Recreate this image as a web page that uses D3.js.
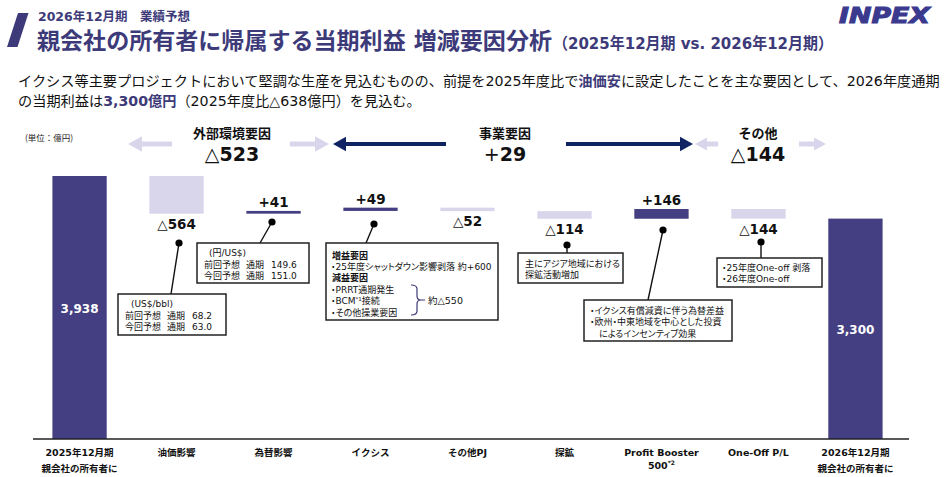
<!DOCTYPE html>
<html><head><meta charset="utf-8">
<script src="https://cdn.jsdelivr.net/npm/d3@7"></script>
<style>
html,body{margin:0;padding:0;background:#fff;}
svg{display:block;}
text{font-family:"DejaVu Sans","Noto Sans CJK JP",sans-serif;}
.jp{font-family:"Noto Sans CJK JP","DejaVu Sans",sans-serif;}
.pa{font-family:"DejaVu Sans","Noto Sans CJK JP",sans-serif;font-feature-settings:"palt";}
</style></head>
<body>
<svg id="c" width="944" height="477"></svg>
<script>
// ---- data ----
const categories = ["2025年12月期","油価影響","為替影響","イクシス","その他PJ","探鉱","Profit Booster","One-Off P/L","2026年12月期"];
const subLabels = ["親会社の所有者に","","","","","","500","","親会社の所有者に"];
const values = [3938, -564, 41, 49, -52, -114, 146, -144, 3300];
const kinds = ["total","delta","delta","delta","delta","delta","delta","delta","total"];
const groups = [
  {name:"外部環境要因", from:1, to:2},
  {name:"事業要因", from:3, to:6},
  {name:"その他", from:7, to:7}
];
const oilPrev = "68.2", oilNow = "63.0", fxPrev = "149.6", fxNow = "151.0";

const DARK = "#443f82", LIGHT = "#d9d6ec", NAVY = "#0f2261", TITLE = "#3d3a7a";
const svg = d3.select("#c");

// ---- header ----
svg.append("path").attr("d","M18,13 L28.5,13 L17.5,47 L7,47 Z").attr("fill",TITLE);
svg.append("text").attr("x",38).attr("y",21).attr("font-size",12.5).attr("font-weight",700).attr("fill",TITLE)
  .attr("textLength",152).attr("lengthAdjust","spacingAndGlyphs").text("2026年12月期　業績予想");
svg.append("text").attr("x",37).attr("y",49).attr("fill",TITLE).attr("font-weight",700)
  .attr("font-size",22.5).attr("textLength",515).attr("lengthAdjust","spacingAndGlyphs").text("親会社の所有者に帰属する当期利益 増減要因分析");
svg.append("text").attr("x",553).attr("y",49).attr("fill",TITLE).attr("font-weight",700)
  .attr("font-size",16).attr("textLength",280).attr("lengthAdjust","spacingAndGlyphs").text("（2025年12月期 vs. 2026年12月期）");
svg.append("text").attr("x",839).attr("y",23).attr("font-family","Liberation Sans").attr("font-size",22).attr("font-weight",700).attr("font-style","italic")
  .attr("fill","#3b3a8e").attr("stroke","#3b3a8e").attr("stroke-width",1.1).attr("textLength",91).attr("lengthAdjust","spacingAndGlyphs").text("INPEX");

const s1 = svg.append("text").attr("x",18).attr("y",86).attr("font-size",14.2).attr("fill","#111");
s1.append("tspan").text("イクシス等主要プロジェクトにおいて堅調な生産を見込むものの、前提を2025年度比で");
s1.append("tspan").attr("font-weight",700).attr("fill",TITLE).text("油価安");
s1.append("tspan").text("に設定したことを主な要因として、2026年度通期");
const s2 = svg.append("text").attr("x",18).attr("y",106).attr("font-size",14.2).attr("fill","#111");
s2.append("tspan").text("の当期利益は");
s2.append("tspan").attr("font-weight",700).attr("fill",TITLE).text("3,300億円");
s2.append("tspan").text("（2025年度比△638億円）を見込む。");

svg.append("text").attr("class","jp").attr("x",25).attr("y",141).attr("font-size",8.5).attr("fill","#222").text("(単位：億円)");

// ---- scales ----
const x = d3.scaleBand().domain(categories).range([33,902]).paddingInner(0.44).paddingOuter(0.2);
const y = d3.scaleLinear().domain([0, values[0]]).range([439, 176]);

// waterfall
let cum = 0;
const bars = values.map((v,i)=>{
  let y0,y1;
  if(kinds[i]==="total"){ y0=0; y1=v; cum=v; }
  else { y0=cum; y1=cum+v; cum=y1; }
  return {i, cat:categories[i], v, kind:kinds[i], lo:Math.min(y0,y1), hi:Math.max(y0,y1)};
});

svg.selectAll("rect.bar").data(bars).join("rect").attr("class","bar")
  .attr("x",d=>x(d.cat)).attr("width",x.bandwidth())
  .attr("y",d=>y(d.hi)).attr("height",d=>Math.max(1,y(d.lo)-y(d.hi)))
  .attr("fill",d=>(d.kind==="total"||d.v>0)?DARK:LIGHT);

// baseline
svg.append("line").attr("x1",33).attr("x2",909).attr("y1",y(0)).attr("y2",y(0)).attr("stroke","#222").attr("stroke-width",1.6);

const fmt = d3.format(",");
const sign = v => v<0 ? "△"+Math.abs(v) : "+"+v;
svg.selectAll("text.tot").data(bars.filter(d=>d.kind==="total")).join("text").attr("class","tot")
  .attr("x",d=>x(d.cat)+x.bandwidth()/2).attr("y",d=>(y(d.hi)+y(0))/2+5)
  .attr("text-anchor","middle").attr("fill","#fff").attr("font-size",12).attr("font-weight",700).text(d=>fmt(d.v));
svg.selectAll("text.dl").data(bars.filter(d=>d.kind==="delta")).join("text").attr("class","dl")
  .attr("x",d=>x(d.cat)+x.bandwidth()/2)
  .attr("y",d=>d.v>0 ? y(d.hi)-4 : y(d.lo)+15)
  .attr("text-anchor","middle").attr("fill","#111").attr("font-size",13.5).attr("font-weight",700).text(d=>sign(d.v));

// axis labels
const ax = svg.append("g");
categories.forEach((c,i)=>{
  const cx = x(c)+x.bandwidth()/2;
  const tt = ax.append("text").attr("text-anchor","middle").attr("font-size",9.5).attr("font-weight",700).attr("fill","#111");
  tt.append("tspan").attr("x",cx).attr("y",456).text(c);
  if(subLabels[i]){
    tt.append("tspan").attr("x",cx).attr("y",i===6?469:472).text(subLabels[i]);
    if(i===6) tt.append("tspan").attr("font-size",6).attr("dy",-4).text("*2");
  }
});

// ---- group headers ----
function arrow(x1,x2,yy,color,w,head){
  const dir = Math.sign(x2-x1);
  svg.append("line").attr("x1",x1).attr("x2",x2-dir*head).attr("y1",yy).attr("y2",yy).attr("stroke",color).attr("stroke-width",w);
  svg.append("path").attr("d",`M${x2},${yy} L${x2-dir*head},${yy-head*0.55} L${x2-dir*head},${yy+head*0.55} Z`).attr("fill",color);
}
const gCenters = [232, 505, 758];
groups.forEach((g,k)=>{
  const sum = d3.sum(values.slice(g.from,g.to+1));
  svg.append("text").attr("class","jp").attr("x",gCenters[k]).attr("y",138).attr("text-anchor","middle").attr("font-size",13).attr("font-weight",700).attr("fill","#111").text(g.name);
  const tx = svg.append("text").attr("x",gCenters[k]).attr("y",161).attr("text-anchor","middle").attr("font-size",19).attr("fill","#111");
  const st = sign(sum);
  tx.append("tspan").text(st[0]);
  tx.append("tspan").attr("font-weight",700).text(st.slice(1));
});
arrow(172,128,144,LIGHT,5,14);
arrow(290,329,144,LIGHT,5,14);
arrow(446,333,144,NAVY,4,13);
arrow(566,693,144,NAVY,4,13);
arrow(718,695,144,LIGHT,5,12);
arrow(799,826,144,LIGHT,5,12);

// ---- callouts ----
function callout(dot, end, box, lines, fs){
  svg.append("line").attr("x1",dot[0]).attr("y1",dot[1]).attr("x2",end[0]).attr("y2",end[1]).attr("stroke","#111").attr("stroke-width",1.4);
  svg.append("circle").attr("cx",dot[0]).attr("cy",dot[1]).attr("r",3.6).attr("fill","#000");
  svg.append("rect").attr("x",box[0]).attr("y",box[1]).attr("width",box[2]-box[0]).attr("height",box[3]-box[1]).attr("fill","#fff").attr("stroke","#222").attr("stroke-width",1.5);
  const tx = svg.append("text").attr("class","pa").attr("font-size",fs).attr("fill","#111");
  lines.forEach(l=>{
    const parts = Array.isArray(l.t) ? l.t : [[l.x,l.t]];
    parts.forEach(p=>{
      tx.append("tspan").attr("x",p[0]).attr("y",l.y).attr("font-weight",l.b?700:400).text(p[1]);
    });
  });
  return tx;
}
callout([179,243],[171,294],[118,294,226,335],[
  {y:307,t:[[131,"(US$/bbl)"]]},
  {y:318.5,t:[[125,"前回予想"],[167,"通期"],[192,oilPrev]]},
  {y:330,t:[[125,"今回予想"],[167,"通期"],[192,oilNow]]}],9);
callout([272,222],[260,243],[197,243,309,283],[
  {y:256,t:[[209,"(円/US$)"]]},
  {y:267.5,t:[[204,"前回予想"],[246,"通期"],[271,fxPrev]]},
  {y:279,t:[[204,"今回予想"],[246,"通期"],[271,fxNow]]}],9);
const ich = callout([374,224],[366,243],[326,243,498,320],[
  {x:332,y:258.5,t:"増益要因",b:true},
  {x:331,y:269.5,t:"・25年度シャットダウン影響剥落 約+600"},
  {x:332,y:281,t:"減益要因",b:true},
  {x:331,y:292.5,t:"・PRRT通期発生"},
  {x:331,y:304,t:"・BCM"}],9);
ich.append("tspan").attr("font-size",5.5).attr("dy",-3).text("*1");
ich.append("tspan").attr("dy",3).text("接続");
ich.append("tspan").attr("x",331).attr("y",315.5).text("・その他操業要因");
ich.append("tspan").attr("x",428).attr("y",304).attr("font-size",9.5).text("約△550");
svg.append("path").attr("d","M411,285 Q417,285 417,289 L417,296 Q417,300 421,300 Q417,300 417,304 L417,311 Q417,315 411,315 M421,300 L425,300").attr("fill","none").attr("stroke","#3d3a7a").attr("stroke-width",1.2);
callout([567,245],[567,253],[518,253,623,283],[
  {x:525,y:266.5,t:"主にアジア地域における"},
  {x:525,y:278,t:"探鉱活動増加"}],9);
callout([663,230],[648,300],[584,300,732,341],[
  {x:590,y:313.5,t:"・イクシス有償減資に伴う為替差益"},
  {x:590,y:325,t:"・欧州・中東地域を中心とした投資"},
  {x:590,y:336.5,t:"　によるインセンティブ効果"}],9);
callout([761,242],[761,258],[717,258,822,287],[
  {x:722,y:270.5,t:"・25年度One-off 剥落"},
  {x:722,y:282,t:"・26年度One-off"}],9);
</script>
</body></html>
